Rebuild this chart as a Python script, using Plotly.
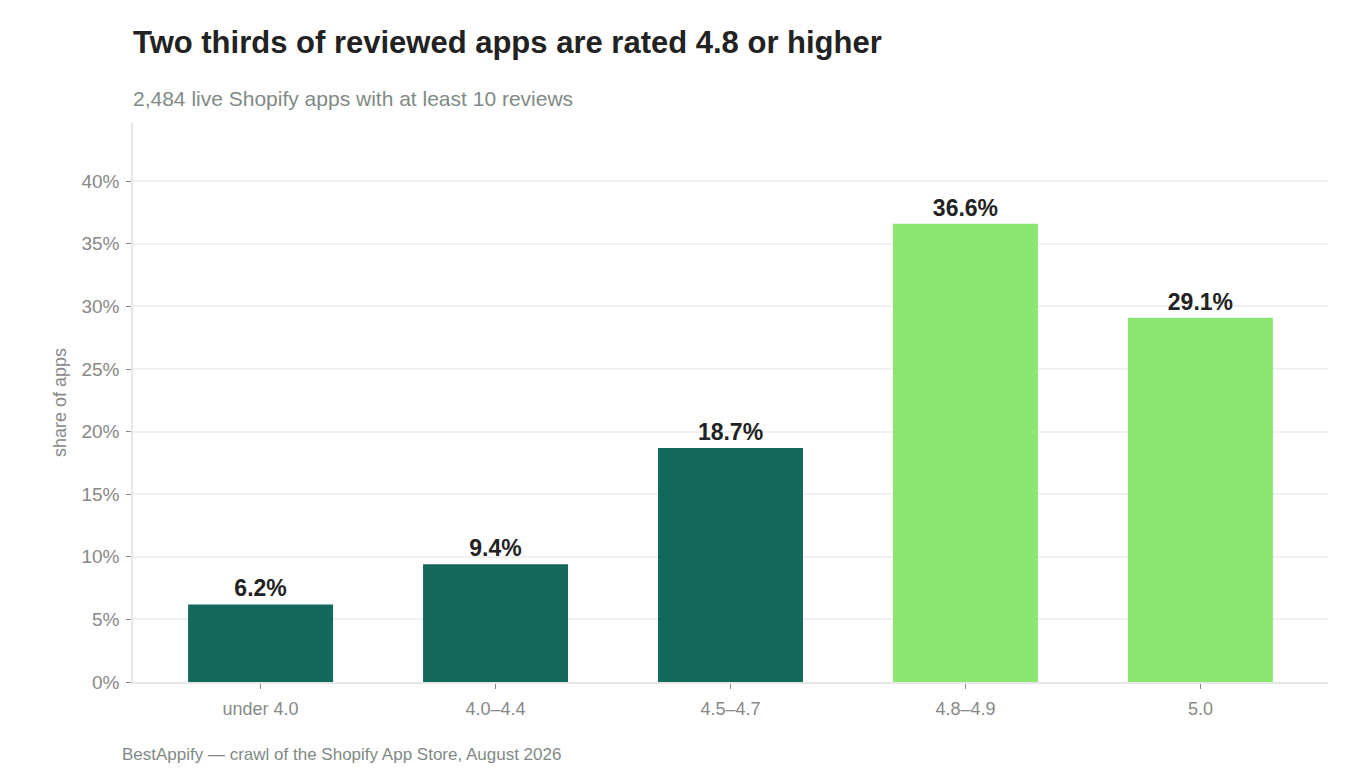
import plotly.graph_objects as go

categories = ["under 4.0", "4.0–4.4", "4.5–4.7", "4.8–4.9", "5.0"]
shares = [6.2, 9.4, 18.7, 36.6, 29.1]
highlight = [False, False, False, True, True]

DARK = "#13695C"
LIGHT = "#8EE672"
colors = [LIGHT if h else DARK for h in highlight]

FONT = "Liberation Sans, Arial, sans-serif"
PLOT_H = 559
PLOT_W = 1195

fig = go.Figure(
    go.Bar(
        x=categories,
        y=shares,
        marker=dict(color=colors, line=dict(width=0)),
        text=[f"{v:.1f}%" for v in shares],
        textposition="outside",
        textfont=dict(family=FONT, size=23, color="#222222", weight="bold"),
        cliponaxis=False,
        hoverinfo="skip",
    )
)

fig.update_layout(
    width=1342,
    height=772,
    margin=dict(l=125, r=22, t=115, b=98),
    plot_bgcolor="white",
    paper_bgcolor="white",
    bargap=0.383,
    showlegend=False,
    font=dict(family=FONT, color="#888888"),
    annotations=[
        dict(text="<b>Two thirds of reviewed apps are rated 4.8 or higher</b>",
             xref="paper", yref="paper", x=0, y=1 + 81 / PLOT_H, xanchor="left", yanchor="middle",
             xshift=-2, showarrow=False, font=dict(family=FONT, size=31, color="#222222")),
        dict(text="2,484 live Shopify apps with at least 10 reviews",
             xref="paper", yref="paper", x=0, y=1 + 25 / PLOT_H, xanchor="left", yanchor="middle",
             xshift=-2, showarrow=False, font=dict(family=FONT, size=21, color="#7F8A86")),
        dict(text="BestAppify — crawl of the Shopify App Store, August 2026",
             xref="paper", yref="paper", x=-11 / PLOT_W, y=-72 / PLOT_H, xanchor="left", yanchor="middle",
             xshift=-2, showarrow=False, font=dict(family=FONT, size=17, color="#7F8A86")),
    ],
)

fig.update_yaxes(
    range=[0, 44.65],
    dtick=5,
    ticksuffix="%",
    showgrid=True,
    gridcolor="#F0F0F0",
    gridwidth=1.5,
    zeroline=False,
    showline=True,
    linecolor="#E6E6E6",
    linewidth=1.5,
    ticks="outside",
    ticklen=5,
    tickcolor="#888888",
    ticklabelstandoff=3,
    tickfont=dict(family=FONT, size=19, color="#888888"),
    title=dict(text="share of apps", font=dict(family=FONT, size=18, color="#888888"), standoff=10),
)
fig.update_xaxes(
    range=[-0.543, 4.543],
    showgrid=False,
    showline=True,
    linecolor="#E6E6E6",
    linewidth=1.5,
    ticks="outside",
    ticklen=5,
    tickcolor="#888888",
    ticklabelstandoff=5,
    tickfont=dict(family=FONT, size=18, color="#888888"),
)

fig.write_html("out.html")
